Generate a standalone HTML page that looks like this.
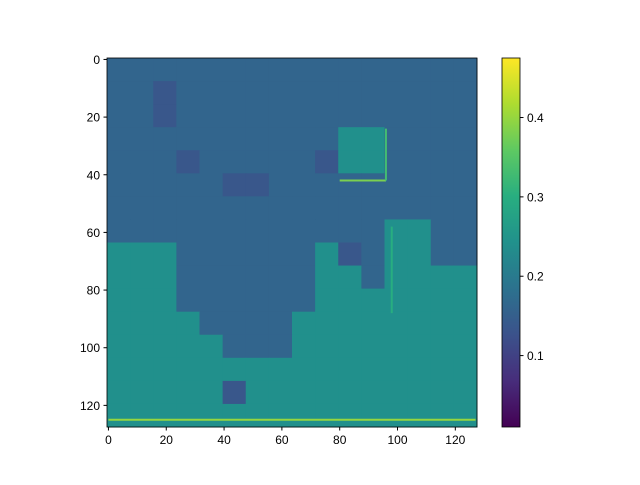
<!DOCTYPE html>
<html><head><meta charset="utf-8"><style>
body{margin:0;background:#fff;font-family:"Liberation Sans",sans-serif}
</style></head><body>
<svg width="640" height="480" xmlns="http://www.w3.org/2000/svg">
<g id="img"></g>
<rect x="107" y="58" width="370" height="369" fill="none" stroke="#000" stroke-width="0.8"/>
<g id="axes" font-size="12" fill="#000"></g>
<defs><linearGradient id="vir" x1="0" y1="1" x2="0" y2="0">
<stop offset="0" stop-color="#440154"/><stop offset="0.125" stop-color="#472d7b"/><stop offset="0.25" stop-color="#3b528b"/><stop offset="0.375" stop-color="#2c728e"/><stop offset="0.5" stop-color="#21918c"/><stop offset="0.625" stop-color="#28ae80"/><stop offset="0.75" stop-color="#5ec962"/><stop offset="0.875" stop-color="#addc30"/><stop offset="1" stop-color="#fde725"/></linearGradient></defs>
<rect x="502" y="58" width="18" height="369" fill="url(#vir)" stroke="#000" stroke-width="0.8"/>
<g id="cb" font-size="12"></g>
</svg>
<script>
const vmin=0.01, vmax=0.475;
const gridRows=[
"bbbbbbbbbbbbbbbb","bbdbbbbbbbbbbbbb","bbdbbbbbbbbbbbbb","bbbbbbbbbbggbbbb",
"bbbdbbbbbdggbbbb","bbbbbddbbbbbbbbb","bbbbbbbbbbbbbbbb","bbbbbbbbbbbbggbb",
"gggbbbbbbgdbggbb","gggbbbbbbggbgggg","gggbbbbbbggggggg","ggggbbbbgggggggg",
"gggggbbbgggggggg","gggggggggggggggg","gggggdgggggggggg","gggggggggggggggg"];
const levels={b:0.16,d:0.135,g:0.24,f:0.15};
const xTicks=[0,20,40,60,80,100,120];
const yTicks=[0,20,40,60,80,100,120];
const cbTicks=[0.1,0.2,0.3,0.4];
const brightLines=[[0,125,127,125,0.4],[80,42,96,42,0.38],[96,24,96,42,0.33],[98,58,98,88,0.3]];
const NS="http://www.w3.org/2000/svg";
const X0=107,Y0=58,W=370,H=369,N=128;
const sx=v=>X0+(v+0.5)*W/N, sy=v=>Y0+(v+0.5)*H/N;
function vir(v){const t=Math.max(0,Math.min(1,(v-vmin)/(vmax-vmin)));
const s=[[68,1,84],[71,45,123],[59,82,139],[44,114,142],[33,145,140],[40,174,128],[94,201,98],[173,220,48],[253,231,37]];
const p=t*8,i=Math.min(7,Math.floor(p)),f=p-i;
return `rgb(${s[i].map((c,k)=>Math.round(c+(s[i+1][k]-c)*f)).join(',')})`;}
const img=document.getElementById('img');
gridRows.forEach((row,r)=>{[...row].forEach((ch,c)=>{
const e=document.createElementNS(NS,'rect');
e.setAttribute('x',X0+c*8*W/N);e.setAttribute('y',Y0+r*8*H/N);
e.setAttribute('width',8*W/N+0.5);e.setAttribute('height',8*H/N+0.5);
e.setAttribute('fill',vir(levels[ch]));


img.appendChild(e);});});
brightLines.forEach(l=>{const e=document.createElementNS(NS,'line');
e.setAttribute('x1',sx(l[0]));e.setAttribute('y1',sy(l[1]));e.setAttribute('x2',sx(l[2]));e.setAttribute('y2',sy(l[3]));
e.setAttribute('stroke',vir(l[4]));e.setAttribute('stroke-width',2);


img.appendChild(e);});
const ax=document.getElementById('axes');
xTicks.forEach(v=>{const x=sx(v);
const t=document.createElementNS(NS,'line');t.setAttribute('x1',x);t.setAttribute('x2',x);t.setAttribute('y1',427);t.setAttribute('y2',430.5);t.setAttribute('stroke','#000');

ax.appendChild(t);
const s=document.createElementNS(NS,'text');s.setAttribute('x',x);s.setAttribute('y',444);s.setAttribute('text-anchor','middle');s.textContent=v;

ax.appendChild(s);});
yTicks.forEach(v=>{const y=sy(v);
const t=document.createElementNS(NS,'line');t.setAttribute('x1',103.5);t.setAttribute('x2',107);t.setAttribute('y1',y);t.setAttribute('y2',y);t.setAttribute('stroke','#000');

ax.appendChild(t);
const s=document.createElementNS(NS,'text');s.setAttribute('x',100);s.setAttribute('y',y+4.5);s.setAttribute('text-anchor','end');s.textContent=v;

ax.appendChild(s);});
const cb=document.getElementById('cb');
cbTicks.forEach(v=>{const y=427-(v-vmin)/(vmax-vmin)*369;
const t=document.createElementNS(NS,'line');t.setAttribute('x1',520);t.setAttribute('x2',523.5);t.setAttribute('y1',y);t.setAttribute('y2',y);t.setAttribute('stroke','#000');

cb.appendChild(t);
const s=document.createElementNS(NS,'text');s.setAttribute('x',527);s.setAttribute('y',y+4.5);s.textContent=v.toFixed(1);

cb.appendChild(s);});
</script>
</body></html>
